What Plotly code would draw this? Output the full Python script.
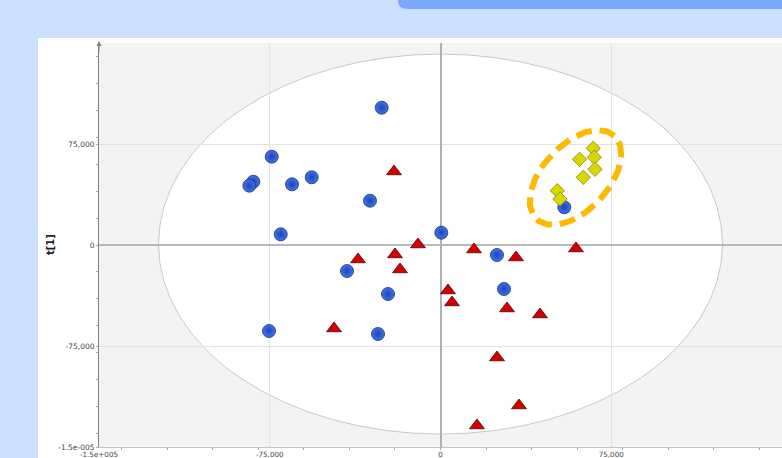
import numpy as np
import plotly.graph_objects as go

# ---- data ----
blue_x = [-25820, -74130, -82220, -83970, -65220, -56570, -30960, -70180, 350,
          -41060, -23060, -75320, -27450, 24810, 27890, 54370]
blue_y = [101960, 65570, 47010, 44040, 45080, 50270, 32900, 7950, 9130,
          -19310, -36390, -63860, -66090, -7430, -32680, 28000]

red_x = [-20420, -36230, -19980, -17790, -9880, -46780, 3290, 5050, 14710,
         33160, 29210, 43700, 59510, 24820, 34480, 16030]
red_y = [54580, -10770, -7050, -18190, 370, -62000, -33790, -42700, -3340,
         -9280, -47150, -51610, -2600, -83540, -119190, -134040]

yel_x = [67110, 61070, 67550, 67850, 62720, 51300, 52480]
yel_y = [71810, 63640, 65130, 56210, 50270, 40320, 34160]

x_tickvals = [-150000, -75000, 0, 75000]
x_ticktext = ["-1.5e+005", "-75,000", "0", "75,000"]
y_tickvals = [-150000, -75000, 0, 75000]
y_ticktext = ["-1.5e-005", "-75,000", "0", "75,000"]

# ---- layout geometry ----
W, H = 782, 458
ML, MR, MT, MB = 99, 0, 43, 11
PW, PH = W - ML - MR, H - MT - MB
XR = [-150000, 150000]
YR = [-150000, 150000]
upx = (XR[1] - XR[0]) / PW   # data units per px (x)
upy = (YR[1] - YR[0]) / PH   # data units per px (y)


def px_x(px):
    return (px - ML) / PW


def px_y(py):
    return (H - MB - py) / PH


fig = go.Figure()

# Hotelling-style ellipse (white inside)
ell_rx, ell_ry, ell_cy = 123850, 141090, 700

# orange dashed highlight ellipse (pixel geometry converted to data units)
t = np.linspace(0, 2 * np.pi, 200)
a_px, b_px, ang = 57, 33, np.deg2rad(47)
cx, cy = 59290, 50130
ox = cx + (a_px * np.cos(ang) * np.cos(t) - b_px * np.sin(ang) * np.sin(t)) * upx
oy = cy + (a_px * np.sin(ang) * np.cos(t) + b_px * np.cos(ang) * np.sin(t)) * upy

fig.add_trace(go.Scatter(
    x=blue_x, y=blue_y, mode="markers", name="Class 1",
    marker=dict(symbol="circle", size=13, color="#3f74ee",
                gradient=dict(type="radial", color="#1d44b4"),
                line=dict(color="#18307a", width=0.8))))
fig.add_trace(go.Scatter(
    x=red_x, y=red_y, mode="markers", name="Class 2",
    marker=dict(symbol="triangle-up", size=13, color="#d20000",
                line=dict(color="#5a0000", width=0.8))))
fig.add_trace(go.Scatter(
    x=yel_x, y=yel_y, mode="markers", name="Class 3",
    marker=dict(symbol="diamond", size=11, color="#d8d800",
                line=dict(color="#85851a", width=0.8))))
fig.add_trace(go.Scatter(
    x=ox, y=oy, mode="lines", hoverinfo="skip",
    line=dict(color="#ffb800", width=6, dash="16px,8px")))

shapes = [
    # light-blue slide background around the white panel
    dict(type="rect", xref="paper", yref="paper", layer="below",
         x0=px_x(-5), x1=px_x(38), y0=px_y(H + 5), y1=px_y(-5),
         fillcolor="#cce0ff", line=dict(width=0)),
    dict(type="rect", xref="paper", yref="paper", layer="below",
         x0=px_x(-5), x1=px_x(W + 5), y0=px_y(38), y1=px_y(-5),
         fillcolor="#cce0ff", line=dict(width=0)),
    # blue tab at top right
    dict(type="path", xref="paper", yref="paper", layer="above",
         path=(f"M {px_x(398)},{px_y(-2)} L {px_x(398)},{px_y(1)} "
               f"Q {px_x(398)},{px_y(9)} {px_x(408)},{px_y(9)} "
               f"L {px_x(W + 5)},{px_y(9)} L {px_x(W + 5)},{px_y(-2)} Z"),
         fillcolor="#7aa8ff", line=dict(width=0)),
    # ellipse
    dict(type="circle", xref="x", yref="y", layer="below",
         x0=-ell_rx, x1=ell_rx, y0=ell_cy - ell_ry, y1=ell_cy + ell_ry,
         fillcolor="white", line=dict(color="#c8c8c8", width=1)),
]

fig.update_layout(
    width=W, height=H,
    margin=dict(l=ML, r=MR, t=MT, b=MB, autoexpand=False),
    paper_bgcolor="white", plot_bgcolor="#f3f3f3",
    showlegend=False, shapes=shapes,
    font=dict(family="DejaVu Sans", size=7.5, color="#444"),
    xaxis=dict(range=XR, tickvals=x_tickvals, ticktext=x_ticktext,
               showgrid=True, gridcolor="#e2e2e2", gridwidth=1,
               zeroline=True, zerolinecolor="#b0b0b0", zerolinewidth=1.5,
               showline=True, linecolor="#c4c4c4", linewidth=1,
               ticks="", ticklabelstandoff=0,
               minor=dict(dtick=20000, tick0=0, ticks="outside", ticklen=2,
                          tickcolor="#aaa", showgrid=False),
               tickfont=dict(size=7.2, color="#444"), automargin=False,
               fixedrange=True),
    yaxis=dict(range=YR, tickvals=y_tickvals, ticktext=y_ticktext,
               showgrid=True, gridcolor="#e2e2e2", gridwidth=1,
               zeroline=True, zerolinecolor="#b8b8b8", zerolinewidth=1.5,
               showline=True, linecolor="#808080", linewidth=1,
               ticks="outside", ticklen=2, tickcolor="#aaa",
               minor=dict(dtick=20000, tick0=0, ticks="outside", ticklen=2,
                          tickcolor="#aaa", showgrid=False),
               tickfont=dict(size=7.5, color="#444"), automargin=False,
               fixedrange=True),
    annotations=[
        dict(text="<b>t[1]</b>", xref="paper", yref="paper", x=px_x(50),
             y=px_y(245), xanchor="center", yanchor="middle",
             textangle=-90, showarrow=False,
             font=dict(size=10, color="#222", family="DejaVu Sans")),
        dict(text="", xref="paper", yref="paper", x=0, y=px_y(41),
             ax=0, ay=12, showarrow=True, arrowhead=2, arrowsize=1,
             arrowwidth=1, arrowcolor="#808080"),
    ],
)

fig.write_html(
    "out.html", config=dict(displayModeBar=False),
    post_script="document.body.style.margin='0';"
                "document.body.style.overflow='hidden';")
